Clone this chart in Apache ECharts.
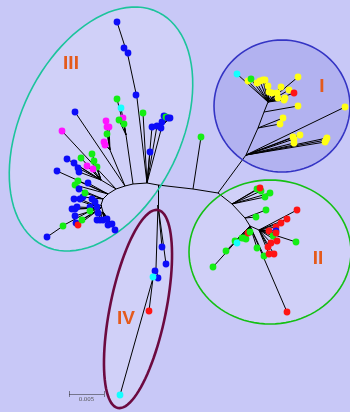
<!DOCTYPE html>
<html>
<head>
<meta charset="utf-8">
<script src="https://cdn.jsdelivr.net/npm/echarts@6/dist/echarts.min.js"></script>
<style>
  html, body { margin: 0; padding: 0; background: #c8c8f7; }
  #chart { width: 350px; height: 412px; }
</style>
</head>
<body>
<div id="chart"></div>
<script>
// Unrooted tree laid out in plot units (x right, y down).
// Branch points: [name, x, y, parent]
const backboneNodes = [
  ['n0', 147, 183, null],
  ['n1', 158, 185, 'n0'],
  ['n2', 193, 189, 'n1'],
  ['n3', 218, 193, 'n2']
];
const cladeIIINodes = [
  ['l1', 137, 98, 'n0'], ['l2', 128, 56, 'l1'], ['r1', 162, 126, 'n0'],
  ['a1', 133, 184, 'n0'], ['a2', 125, 186, 'a1'], ['a3', 116, 189, 'a2'],
  ['a4', 108, 194, 'a3'], ['a5', 103, 199, 'a4'], ['a6', 101, 205, 'a5'],
  ['a7', 103, 212, 'a6'], ['p1', 126, 135, 'a1'], ['p2', 110, 150, 'a2'],
  ['p3', 101, 180, 'a3'], ['p4', 101, 208, 'a6'], ['p5', 66, 224, 'a6']
];
const cladeIVNodes = [
  ['q1', 158, 205, 'n1'], ['q2', 156, 268, 'q1'], ['q3', 153, 278, 'q2']
];
const cladeINodes = [
  ['c1', 246, 155, 'n3'], ['c2', 258, 128, 'c1'], ['c3', 264, 112, 'c2'], ['c4', 268, 102, 'c3']
];
const cladeIINodes = [
  ['d1', 232, 204, 'n3'], ['d2', 245, 218, 'd1'], ['d3', 250, 226, 'd2'], ['d4', 259, 230, 'd3']
];

// Leaves: [x, y, group key, parent]
const looseTips = [
  [201, 137, 'g', 'n2']
];
const cladeIIITips = [
  [117, 22, 'b', 'l2'], [124, 48, 'b', 'l2'], [128, 53, 'b', 'l2'], [136, 95, 'b', 'l1'],
  [143, 113, 'g', 'n0'], [150, 152, 'b', 'n0'], [152, 127, 'b', 'n0'], [157, 126, 'b', 'n0'],
  [161, 128, 'b', 'r1'], [162, 122, 'b', 'r1'], [164, 116, 'b', 'r1'], [166, 117, 'g', 'r1'],
  [168, 118, 'b', 'r1'], [170, 118, 'b', 'r1'],
  [117, 99, 'g', 'p1'], [121, 108, 'c', 'p1'], [123, 118, 'm', 'p1'], [119, 120, 'g', 'p1'], [124, 124, 'g', 'p1'],
  [106, 121, 'm', 'p2'], [107, 127, 'm', 'p2'], [109, 127, 'm', 'p2'], [107, 134, 'g', 'p2'],
  [104, 142, 'm', 'p2'], [105, 145, 'm', 'p2'],
  [75, 112, 'b', 'a2'],
  [62, 131, 'm', 'a3'],
  [81, 158, 'g', 'p3'], [92, 154, 'g', 'p3'], [94, 161, 'g', 'p3'], [97, 167, 'g', 'p3'],
  [87, 166, 'm', 'p3'], [93, 169, 'm', 'p3'],
  [67, 159, 'b', 'p3'], [74, 163, 'b', 'p3'], [78, 168, 'b', 'p3'], [79, 172, 'b', 'p3'],
  [57, 171, 'b', 'a4'], [78, 181, 'g', 'a4'], [75, 185, 'g', 'a4'], [88, 183, 'b', 'a4'],
  [79, 189, 'b', 'a5'], [83, 197, 'b', 'a5'], [85, 193, 'g', 'a5'],
  [80, 199, 'b', 'p4'], [74, 199, 'b', 'p4'], [75, 209, 'b', 'p4'], [72, 209, 'b', 'p4'],
  [77, 207, 'b', 'p4'], [75, 216, 'b', 'p4'], [76, 223, 'b', 'p4'], [78, 225, 'r', 'p4'], [82, 220, 'g', 'p4'],
  [90, 207, 'b', 'p4'], [97, 207, 'b', 'p4'], [92, 199, 'b', 'p4'], [95, 202, 'b', 'p4'], [90, 211, 'g', 'p4'],
  [98, 213, 'b', 'a7'], [97, 220, 'b', 'a7'], [100, 220, 'b', 'a7'], [103, 220, 'b', 'a7'],
  [107, 219, 'b', 'a7'], [108, 225, 'b', 'a7'], [112, 224, 'b', 'a7'], [115, 230, 'b', 'a7'],
  [63, 226, 'g', 'p5'], [47, 237, 'b', 'p5']
];
const cladeIVTips = [
  [162, 247, 'b', 'q1'], [166, 264, 'b', 'q1'], [155, 271, 'b', 'q2'], [158, 278, 'b', 'q2'],
  [153, 277, 'c', 'q3'], [149, 311, 'r', 'q3'], [120, 395, 'c', 'q3']
];
const cladeITips = [
  [345, 107, 'y', 'c1'], [293, 137, 'y', 'c1'], [300, 135, 'y', 'c1'], [294, 143, 'y', 'c1'],
  [327, 138, 'y', 'c1'], [325, 142, 'y', 'c1'], [326, 140, 'y', 'c1'], [294, 139, 'y', 'c1'],
  [283, 118, 'y', 'c2'], [280, 124, 'y', 'c2'],
  [298, 106, 'y', 'c3'],
  [237, 74, 'c', 'c4'], [248, 81, 'y', 'c4'], [251, 79, 'g', 'c4'], [257, 83, 'y', 'c4'], [260, 81, 'y', 'c4'],
  [263, 80, 'y', 'c4'], [265, 80, 'y', 'c4'], [268, 86, 'y', 'c4'], [269, 92, 'y', 'c4'],
  [272, 93, 'y', 'c4'], [277, 93, 'y', 'c4'], [278, 98, 'y', 'c4'], [281, 87, 'y', 'c4'],
  [284, 100, 'y', 'c4'], [285, 98, 'y', 'c4'], [289, 90, 'y', 'c4'], [298, 77, 'y', 'c4'], [294, 93, 'r', 'c4']
];
const cladeIITips = [
  [257, 189, 'g', 'd1'], [261, 191, 'g', 'd1'], [260, 188, 'r', 'd1'], [270, 193, 'g', 'd1'], [265, 197, 'g', 'd1'],
  [266, 210, 'g', 'd2'], [256, 217, 'g', 'd2'],
  [213, 267, 'g', 'd3'], [226, 251, 'g', 'd3'], [235, 241, 'g', 'd3'], [237, 243, 'c', 'd3'],
  [242, 238, 'g', 'd3'], [246, 239, 'g', 'd3'], [244, 238, 'g', 'd3'], [248, 233, 'r', 'd3'],
  [250, 232, 'g', 'd3'], [257, 248, 'g', 'd3'], [264, 256, 'g', 'd3'], [287, 312, 'r', 'd3'],
  [297, 210, 'r', 'd4'], [287, 219, 'r', 'd4'], [281, 223, 'r', 'd4'], [276, 227, 'r', 'd4'],
  [276, 231, 'b', 'd4'], [269, 231, 'r', 'd4'], [296, 242, 'g', 'd4'], [273, 236, 'g', 'd4'],
  [277, 241, 'r', 'd4'], [271, 243, 'r', 'd4'], [268, 247, 'r', 'd4'], [269, 254, 'r', 'd4'],
  [274, 254, 'r', 'd4'], [276, 233, 'r', 'd4']
];

// Clade outlines: [cx, cy, semi-axis a, semi-axis b, tilt in degrees]
const cladeNames = ['I', 'II', 'III', 'IV'];
const cladeEllipses = [
  [282, 106, 68, 66, 0],
  [270, 252, 81, 72, 0],
  [101, 129, 130, 80, 64],
  [138, 309, 101, 28, 78.5]
];
const cladeLabelPos = [[322, 87], [318, 259], [71, 64], [126, 319]];

// Scale bar
const scaleBarValue = 0.005;
const scaleBarStart = [69, 394];
const scaleBarLength = 35;

// ---- styling ----
const tipColors = { b: '#0c0cf8', g: '#14ee14', m: '#ff14ff', c: '#14ffff', r: '#ff1414', y: '#ffff14' };
const ellipseFill = ['#b2b2f0', '#d0d0f8', '#d0d0f8', '#d0d0f8'];
const ellipseStroke = ['#3434c4', '#14c014', '#1cc49c', '#6c0a40'];
const ellipseWidth = [1.6, 1.6, 1.6, 2.6];

// ---- build edges ----
const allNodes = [].concat(backboneNodes, cladeIIINodes, cladeIVNodes, cladeINodes, cladeIINodes);
const nodePos = {};
allNodes.forEach(n => { nodePos[n[0]] = [n[1], n[2]]; });
const edges = [];
allNodes.forEach(n => { if (n[3]) edges.push({ coords: [nodePos[n[3]], [n[1], n[2]]] }); });
const allTips = [].concat(looseTips, cladeIIITips, cladeIVTips, cladeITips, cladeIITips);
allTips.forEach(t => edges.push({ coords: [nodePos[t[3]], [t[0], t[1]]] }));

const tipData = allTips.map(t => ({ value: [t[0], t[1]], itemStyle: { color: tipColors[t[2]] } }));

function ellipsePoints(e, api) {
  const [cx, cy, a, b, deg] = e;
  const th = deg * Math.PI / 180;
  const pts = [];
  for (let i = 0; i < 96; i++) {
    const t = i / 96 * Math.PI * 2;
    const x = cx + a * Math.cos(th) * Math.cos(t) - b * Math.sin(th) * Math.sin(t);
    const y = cy - (a * Math.sin(th) * Math.cos(t) + b * Math.cos(th) * Math.sin(t));
    pts.push(api.coord([x, y]));
  }
  return pts;
}

const chart = echarts.init(document.getElementById('chart'), null, { renderer: 'canvas' });
chart.setOption({
  backgroundColor: '#c8c8f7',
  animation: false,
  grid: { left: 0, right: 0, top: 0, bottom: 0 },
  xAxis: { type: 'value', min: 0, max: 350, show: false },
  yAxis: { type: 'value', min: 0, max: 412, inverse: true, show: false },
  series: [
    {
      type: 'custom', z: 1, clip: false, silent: true,
      data: cladeEllipses.map(e => [e[0], e[1]]),
      renderItem: (params, api) => ({
        type: 'polygon',
        shape: { points: ellipsePoints(cladeEllipses[params.dataIndex], api) },
        style: { fill: ellipseFill[params.dataIndex], stroke: null }
      })
    },
    {
      type: 'lines', coordinateSystem: 'cartesian2d', z: 2, silent: true,
      lineStyle: { color: '#000', width: 1, opacity: 1 },
      data: edges
    },
    {
      type: 'custom', z: 3, clip: false, silent: true,
      data: cladeEllipses.map(e => [e[0], e[1]]),
      renderItem: (params, api) => ({
        type: 'polygon',
        shape: { points: ellipsePoints(cladeEllipses[params.dataIndex], api) },
        style: { fill: null, stroke: ellipseStroke[params.dataIndex], lineWidth: ellipseWidth[params.dataIndex] }
      })
    },
    {
      type: 'scatter', z: 4, symbol: 'circle', symbolSize: 6.8, silent: true,
      itemStyle: { opacity: 1 },
      data: tipData
    },
    {
      type: 'scatter', z: 5, symbolSize: 1, silent: true,
      itemStyle: { opacity: 1, color: 'transparent' },
      data: cladeNames.map((n, i) => ({ name: n, value: cladeLabelPos[i] })),
      label: {
        show: true, position: 'inside', formatter: p => p.name, opacity: 1,
        fontFamily: 'Liberation Sans', fontWeight: 'bold', fontSize: 19, color: '#e45a1c',
        textBorderWidth: 0, textBorderColor: 'transparent'
      }
    },
    {
      type: 'lines', coordinateSystem: 'cartesian2d', z: 5, silent: true,
      lineStyle: { color: '#222', width: 1 },
      data: [
        { coords: [scaleBarStart, [scaleBarStart[0] + scaleBarLength, scaleBarStart[1]]] },
        { coords: [[scaleBarStart[0], scaleBarStart[1] - 3], [scaleBarStart[0], scaleBarStart[1] + 3]] },
        { coords: [[scaleBarStart[0] + scaleBarLength, scaleBarStart[1] - 3], [scaleBarStart[0] + scaleBarLength, scaleBarStart[1] + 3]] }
      ]
    },
    {
      type: 'scatter', z: 5, symbolSize: 1, silent: true,
      itemStyle: { opacity: 1, color: 'transparent' },
      data: [{ name: String(scaleBarValue), value: [scaleBarStart[0] + scaleBarLength / 2, scaleBarStart[1] + 6] }],
      label: {
        show: true, position: 'inside', formatter: p => p.name, opacity: 1,
        fontFamily: 'DejaVu Sans', fontSize: 5.5, color: '#555',
        textBorderWidth: 0, textBorderColor: 'transparent'
      }
    }
  ]
});
</script>
</body>
</html>
